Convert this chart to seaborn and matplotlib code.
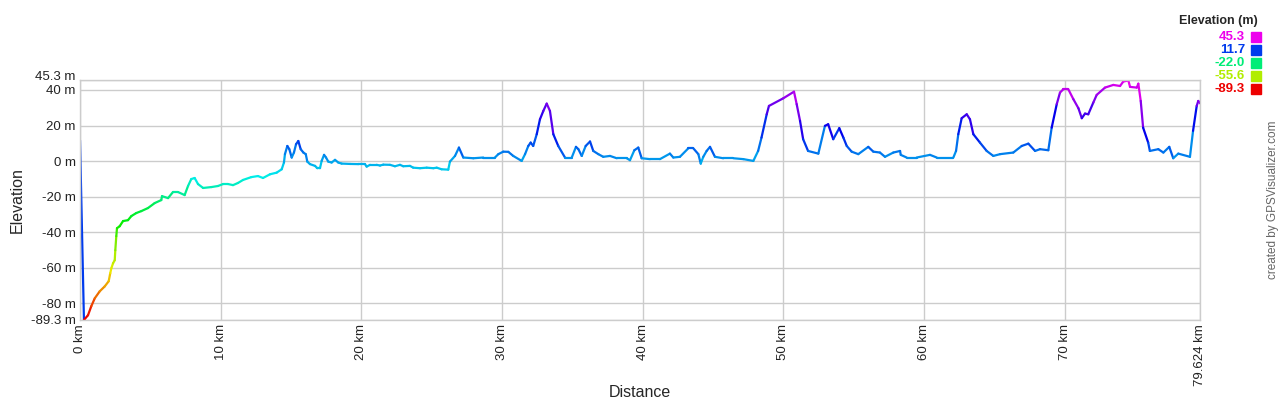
import numpy as np
import pandas as pd
import seaborn as sns
import matplotlib.pyplot as plt
from matplotlib.colors import hsv_to_rgb

# track profile (km, m)
dist_km = [0.0, 0.28, 0.57, 0.80, 1.05, 1.40, 1.76, 2.04, 2.15, 2.23, 2.35, 2.47, 2.51, 2.58, 2.63,
           2.82, 3.06, 3.41, 3.65, 4.00, 4.36, 4.83, 5.31, 5.78, 5.83, 6.26, 6.61, 6.97, 7.44, 7.68,
           7.91, 8.15, 8.39, 8.75, 9.34, 9.81, 10.17, 10.52, 10.88, 11.23, 11.59, 12.18, 12.65, 13.01,
           13.51, 13.98, 14.34, 14.50, 14.57, 14.74, 14.88, 15.05, 15.21, 15.36, 15.52, 15.69, 15.88,
           16.05, 16.16, 16.35, 16.71, 16.87, 17.06, 17.18, 17.35, 17.49, 17.65, 17.89, 18.13, 18.36,
           18.60, 19.20, 19.79, 20.26, 20.38, 20.62, 21.09, 21.33, 21.56, 22.04, 22.39, 22.75, 22.98,
           23.46, 23.69, 24.17, 24.65, 25.12, 25.36, 25.71, 26.18, 26.30, 26.66, 26.94, 27.25, 27.96,
           28.67, 29.50, 29.74, 30.09, 30.45, 30.80, 31.40, 31.64, 31.87, 32.04, 32.22, 32.47, 32.70,
           32.94, 33.18, 33.41, 33.65, 34.00, 34.48, 34.96, 35.26, 35.43, 35.67, 35.95, 36.26, 36.49,
           36.85, 37.20, 37.68, 38.16, 38.87, 39.10, 39.41, 39.69, 39.93, 40.52, 41.23, 41.94, 42.18,
           42.65, 43.25, 43.60, 43.96, 44.13, 44.31, 44.55, 44.79, 45.14, 45.73, 46.45, 47.16, 47.87,
           48.21, 48.45, 48.82, 48.98, 50.00, 50.76, 50.95, 51.19, 51.41, 51.76, 52.49, 52.96, 53.19,
           53.55, 53.98, 54.27, 54.51, 54.86, 55.33, 56.04, 56.40, 56.87, 57.23, 57.82, 58.30, 58.35,
           58.77, 59.48, 60.43, 60.91, 62.09, 62.28, 62.44, 62.68, 63.04, 63.27, 63.51, 63.98, 64.46,
           64.93, 65.41, 66.35, 66.95, 67.42, 67.90, 68.25, 68.84, 69.08, 69.44, 69.67, 69.91, 70.26,
           70.62, 70.98, 71.22, 71.45, 71.68, 72.04, 72.28, 72.87, 73.46, 73.94, 74.17, 74.53, 74.65,
           75.13, 75.24, 75.41, 75.58, 75.94, 76.06, 76.66, 77.02, 77.44, 77.72, 78.08, 78.91, 79.13,
           79.39, 79.50, 79.624]
elev_m = [11.7, -89.3, -86.6, -81.6, -77.1, -73.2, -70.4, -67.5, -63.0, -60.2, -57.4, -55.7, -50.1,
          -42.2, -37.7, -36.6, -33.7, -33.2, -30.9, -29.2, -28.1, -26.4, -23.6, -21.9, -19.7, -20.8,
          -17.4, -17.4, -19.1, -14.0, -10.1, -9.5, -12.9, -15.1, -14.6, -14.0, -12.9, -12.9, -13.5,
          -12.3, -10.6, -9.0, -8.4, -9.5, -7.4, -6.5, -4.6, -0.8, 3.9, 8.5, 6.7, 2.0, 4.8, 9.5, 11.3,
          6.7, 4.8, 3.9, -0.3, -1.7, -2.7, -4.0, -4.0, 0.1, 3.5, 2.0, -0.3, -0.8, 0.7, -0.8, -1.4,
          -1.6, -1.7, -1.7, -3.1, -2.1, -2.1, -2.5, -2.0, -2.1, -2.9, -2.1, -2.9, -2.7, -3.7, -4.0,
          -3.7, -4.0, -3.7, -4.6, -4.8, -0.3, 2.9, 7.6, 2.0, 1.6, 2.0, 2.0, 3.9, 5.3, 5.2, 2.9, 0.1,
          3.9, 8.5, 10.4, 8.5, 15.1, 23.5, 28.2, 32.3, 28.2, 15.1, 8.5, 2.0, 2.0, 8.0, 6.7, 2.9, 8.5,
          11.0, 5.7, 3.9, 2.4, 2.9, 1.6, 1.6, 0.5, 6.1, 7.6, 1.6, 1.1, 1.1, 4.2, 2.0, 2.4, 7.2, 7.2,
          3.9, -1.4, 2.4, 5.7, 8.0, 2.4, 1.6, 1.6, 1.1, 0.1, 5.7, 13.2, 26.3, 31.0, 35.3, 39.0, 32.0,
          22.6, 12.3, 5.7, 4.2, 19.8, 20.7, 12.3, 18.5, 13.2, 8.5, 5.3, 3.9, 8.0, 5.3, 4.8, 2.4, 4.8,
          5.7, 3.5, 2.0, 2.0, 3.5, 2.0, 2.0, 5.7, 15.1, 24.1, 26.3, 23.5, 15.1, 10.4, 5.7, 2.9, 3.9,
          4.8, 8.5, 9.8, 5.7, 6.7, 6.1, 18.8, 32.0, 38.5, 40.4, 40.4, 34.8, 29.7, 24.1, 26.7, 26.3,
          32.9, 37.2, 41.3, 42.8, 42.2, 44.7, 45.3, 41.7, 41.3, 43.5, 33.8, 18.8, 10.4, 5.7, 6.7, 4.8,
          8.0, 1.6, 4.2, 2.4, 17.0, 31.0, 33.8, 32.5]

legend_vals = [45.3, 11.7, -22.0, -55.6, -89.3]
xtick_km = [0, 10, 20, 30, 40, 50, 60, 70, 79.624]
xtick_labels = ['0 km', '10 km', '20 km', '30 km', '40 km', '50 km', '60 km', '70 km', '79.624 km']
ytick_m = [-89.3, -80, -60, -40, -20, 0, 20, 40, 45.3]
ytick_labels = ['-89.3 m', '-80 m', '-60 m', '-40 m', '-20 m', '0 m', '20 m', '40 m', '45.3 m']

emin, emax = min(elev_m), max(elev_m)


def elev_color(e):
    h = (e - emin) / (emax - emin) * 300 / 360
    return tuple(hsv_to_rgb([h, 1.0, 0.93]))


# one two-point segment per step, coloured by its starting elevation
rows = []
for i in range(len(dist_km) - 1):
    rows.append((i, dist_km[i], elev_m[i]))
    rows.append((i, dist_km[i + 1], elev_m[i + 1]))
seg = pd.DataFrame(rows, columns=['seg', 'km', 'm'])
palette = [elev_color(elev_m[i]) for i in range(len(dist_km) - 1)]

sns.set_style('white')
plt.rcParams['font.family'] = ['Liberation Sans', 'DejaVu Sans']

fig = plt.figure(figsize=(12.8, 4), dpi=100)
ax = fig.add_axes([0.0625, 0.2, 0.875, 0.5988])

sns.lineplot(data=seg, x='km', y='m', hue='seg', palette=palette, legend=False,
             sort=False, estimator=None, linewidth=1.6, ax=ax)

ax.set_xlim(0, 79.624)
ax.set_ylim(emin, emax)
ax.set_xticks(xtick_km)
ax.set_xticklabels(xtick_labels, rotation=90, fontsize=9.5)
ax.set_yticks(ytick_m)
ax.set_yticklabels(ytick_labels, fontsize=9.5)
ax.get_yticklabels()[-1].set_va('baseline')
ax.tick_params(length=0, pad=3, colors='#222222')
ax.grid(True, color='#cccccc', linewidth=1)
for s in ax.spines.values():
    s.set_color('#cccccc')
    s.set_linewidth(1)
ax.set_xlabel('Distance', fontsize=11.5)
ax.xaxis.set_label_coords(0.5, -0.272)
ax.set_ylabel('Elevation', fontsize=11.5)
ax.yaxis.set_label_coords(-0.049, 0.5)

# colour key at the top right
fig.text(0.9828, 0.947, 'Elevation (m)', ha='right', va='center', fontsize=9, fontweight='bold')
for k, v in enumerate(legend_vals):
    yy = 0.908 - k * 0.0325
    fig.text(0.9727, yy, f'{v:.1f}', ha='right', va='center', fontsize=9.5,
             fontweight='bold', color=elev_color(v))
    fig.patches.append(plt.Rectangle((0.9773, yy - 0.013), 0.0078, 0.026,
                                     transform=fig.transFigure, color=elev_color(v)))

fig.text(0.9945, 0.5, 'created by GPSVisualizer.com', rotation=90, ha='center', va='center',
         fontsize=8.5, color='#666666')

fig.savefig('out.png', dpi=100)
